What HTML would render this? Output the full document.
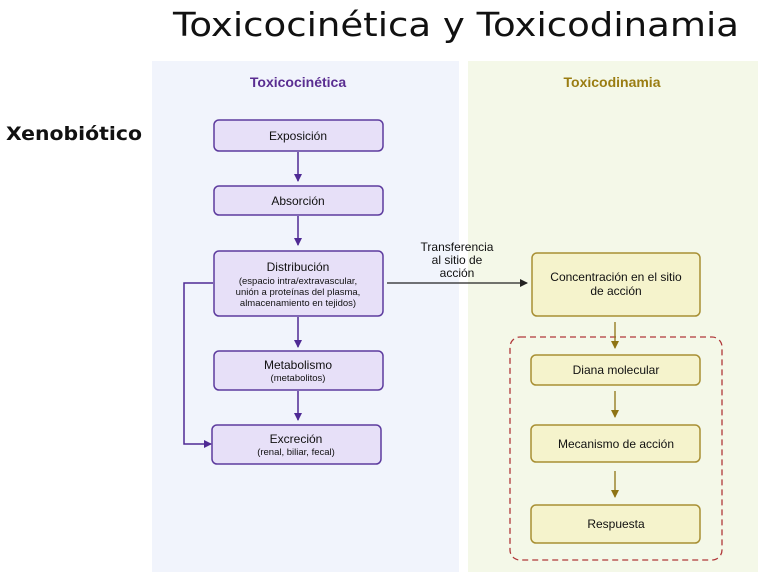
<!DOCTYPE html>
<html><head><meta charset="utf-8"><style>
html,body{margin:0;padding:0;background:#fff;width:758px;height:578px;overflow:hidden}
svg{display:block}
text{font-family:"Liberation Sans",sans-serif}
</style></head><body>
<svg width="758" height="578" viewBox="0 0 758 578" xmlns="http://www.w3.org/2000/svg">
<defs>
<marker id="ap" markerWidth="8" markerHeight="8" refX="7" refY="4" orient="auto" markerUnits="userSpaceOnUse"><path d="M0,0 L8,4 L0,8 Z" fill="#4f2a94"/></marker>
<marker id="ag" markerWidth="8" markerHeight="8" refX="7" refY="4" orient="auto" markerUnits="userSpaceOnUse"><path d="M0,0 L8,4 L0,8 Z" fill="#8e7413"/></marker>
<marker id="ab" markerWidth="8" markerHeight="8" refX="7" refY="4" orient="auto" markerUnits="userSpaceOnUse"><path d="M0,0 L8,4 L0,8 Z" fill="#222"/></marker>
</defs>
<text x="456" y="36" text-anchor="middle" font-size="33" fill="#111" style="font-family:'DejaVu Sans',sans-serif" textLength="566" lengthAdjust="spacingAndGlyphs">Toxicocinética y Toxicodinamia</text>
<text x="6" y="140" font-size="19" fill="#111" style="font-family:'DejaVu Sans',sans-serif" font-weight="bold" textLength="136" lengthAdjust="spacingAndGlyphs">Xenobiótico</text>

<rect x="152" y="61" width="307" height="511" fill="#f1f4fc"/>
<rect x="468" y="61" width="290" height="511" fill="#f4f8e8"/>
<text x="298" y="87" text-anchor="middle" font-size="14" font-weight="bold" fill="#5a2d91">Toxicocinética</text>
<text x="612" y="87" text-anchor="middle" font-size="14" font-weight="bold" fill="#9a7d12">Toxicodinamia</text>

<g fill="#e7e0f8" stroke="#5d3b9e" stroke-width="1.5">
<rect x="214" y="120" width="169" height="31" rx="5"/>
<rect x="214" y="186" width="169" height="29" rx="5"/>
<rect x="214" y="251" width="169" height="65" rx="5"/>
<rect x="214" y="351" width="169" height="39" rx="5"/>
<rect x="212" y="425" width="169" height="39" rx="5"/>
</g>
<g fill="#111" text-anchor="middle" font-size="12">
<text x="298" y="140">Exposición</text>
<text x="298" y="205">Absorción</text>
<text x="298" y="271">Distribución</text>
<text x="298" y="284" font-size="9.5">(espacio intra/extravascular,</text>
<text x="298" y="295" font-size="9.5">unión a proteínas del plasma,</text>
<text x="298" y="306" font-size="9.5">almacenamiento en tejidos)</text>
<text x="298" y="369">Metabolismo</text>
<text x="298" y="381" font-size="9.5">(metabolitos)</text>
<text x="296" y="443">Excreción</text>
<text x="296" y="455" font-size="9.5">(renal, biliar, fecal)</text>
</g>
<g stroke="#4f2a94" stroke-width="1.5" fill="none" marker-end="url(#ap)">
<line x1="298" y1="152" x2="298" y2="181"/>
<line x1="298" y1="216" x2="298" y2="245"/>
<line x1="298" y1="317" x2="298" y2="347"/>
<line x1="298" y1="391" x2="298" y2="420"/>
<polyline points="213,283 184,283 184,444 211,444"/>
</g>

<line x1="387" y1="283" x2="527" y2="283" stroke="#222" stroke-width="1.3" marker-end="url(#ab)"/>
<g fill="#111" text-anchor="middle" font-size="12">
<text x="457" y="251">Transferencia</text>
<text x="457" y="264">al sitio de</text>
<text x="457" y="277">acción</text>
</g>

<rect x="510" y="337" width="212" height="223" rx="10" fill="none" stroke="#b0383a" stroke-width="1.3" stroke-dasharray="6,4"/>
<g fill="#f5f3cc" stroke="#a88f33" stroke-width="1.5">
<rect x="532" y="253" width="168" height="63" rx="5"/>
<rect x="531" y="355" width="169" height="30" rx="5"/>
<rect x="531" y="425" width="169" height="37" rx="5"/>
<rect x="531" y="505" width="169" height="38" rx="5"/>
</g>
<g fill="#111" text-anchor="middle" font-size="12">
<text x="616" y="281">Concentración en el sitio</text>
<text x="616" y="295">de acción</text>
<text x="616" y="374">Diana molecular</text>
<text x="616" y="448">Mecanismo de acción</text>
<text x="616" y="528">Respuesta</text>
</g>
<g stroke="#8e7413" stroke-width="1.3" marker-end="url(#ag)">
<line x1="615" y1="322" x2="615" y2="348"/>
<line x1="615" y1="391" x2="615" y2="417"/>
<line x1="615" y1="471" x2="615" y2="497"/>
</g>
</svg>
</body></html>
